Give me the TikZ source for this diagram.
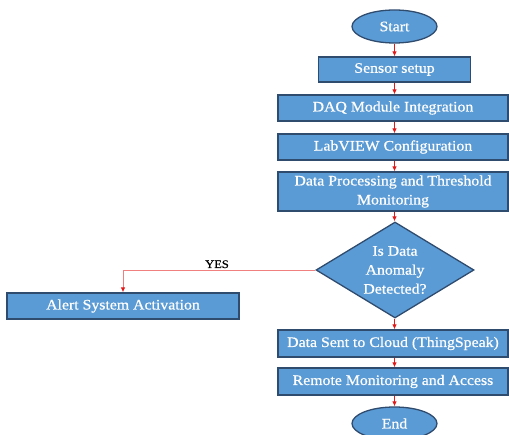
\documentclass[tikz,border=0pt]{standalone}
\usepackage{fontspec}
\setmainfont{Liberation Serif}[FakeStretch=1.09,FakeBold=0.6]
\usetikzlibrary{shapes.geometric,arrows.meta}
\definecolor{boxfill}{HTML}{5B9BD5}
\definecolor{boxline}{HTML}{2F4B6E}
\definecolor{arrred}{HTML}{E01818}
\definecolor{yesred}{HTML}{F08080}
\tikzset{
  base/.style={draw=boxline, line width=1.3pt, fill=boxfill, text=white, align=center,
    font=\fontsize{14.5}{19}\selectfont, inner sep=0pt},
  procbox/.style={base, rectangle, minimum width=#1, minimum height=26pt},
  termnode/.style={base, ellipse, minimum width=85pt, minimum height=33pt},
  decide/.style={base, diamond, minimum width=158pt, minimum height=96pt, aspect=1.65},
  flow/.style={draw=arrred, line width=0.9pt, -{Latex[length=5pt,width=4.5pt]}},
  yesflow/.style={draw=yesred, line width=0.9pt, -{Latex[length=5pt,width=4.5pt,color=arrred]}},
  lbl/.style={text=black, font=\fontsize{11.5}{13}\selectfont, inner sep=0pt},
}
\begin{document}
\begin{tikzpicture}[x=1pt,y=-1pt]
\useasboundingbox (0,0) rectangle (509,435);
\node[termnode] (start) at (394.5,26.5) {Start};
\node[procbox=152pt, minimum height=25pt] (sensor) at (394.5,69.5) {Sensor setup};
\node[procbox=230pt] (daq) at (393,108) {DAQ Module Integration};
\node[procbox=230pt] (lab) at (393,147) {LabVIEW Configuration};
\node[procbox=230pt, minimum height=39pt] (proc) at (393,191.5) {Data Processing and Threshold\\Monitoring};
\node[decide] (dia) at (395,270) {Is Data\\Anomaly\\Detected?};
\node[procbox=232pt] (alert) at (123,306) {Alert System Activation};
\node[procbox=230pt, minimum height=27pt] (cloud) at (393,343.5) {Data Sent to Cloud (ThingSpeak)};
\node[procbox=230pt, minimum height=27pt] (remote) at (393,381.5) {Remote Monitoring and Access};
\node[termnode] (end) at (394.5,423.5) {End};

\draw[flow] (start) -- (sensor);
\draw[flow] (sensor.south -| start) -- (daq.north -| start);
\draw[flow] (daq.south -| start) -- (lab.north -| start);
\draw[flow] (lab.south -| start) -- (proc.north -| start);
\draw[flow] (proc.south -| start) -- (dia.north -| start);
\draw[flow] (dia.south -| start) -- (cloud.north -| start);
\draw[flow] (cloud.south -| start) -- (remote.north -| start);
\draw[flow] (remote.south -| start) -- (end);
\draw[yesflow] (dia.west) -| (alert.north);
\node[lbl, anchor=base] (yes) at (217,268) {YES};
\end{tikzpicture}
\end{document}
